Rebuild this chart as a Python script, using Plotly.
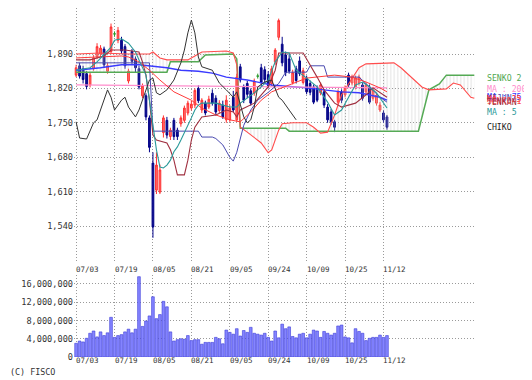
import plotly.graph_objects as go

# ---------------- data ----------------
tick_idx = [0, 11, 22, 33, 44, 55, 66, 77, 88]
tick_text = ["07/03", "07/19", "08/05", "08/21", "09/05", "09/24", "10/09", "10/25", "11/12"]

opens = [1847, 1866, 1860, 1850, 1827, 1860, 1884, 1890, 1900, 1855,
         1895, 1931, 1918, 1918, 1905, 1835, 1895, 1880, 1860, 1805,
         1805, 1760, 1668, 1613, 1609, 1730, 1755, 1722, 1755, 1735,
         1748, 1755, 1770, 1780, 1786, 1820, 1776, 1790, 1782, 1810,
         1800, 1775, 1786, 1756, 1756, 1802, 1756, 1864, 1823, 1830,
         1815, 1810, 1845, 1862, 1858, 1848, 1830, 1874, 1924, 1910,
         1888, 1880, 1832, 1860, 1876, 1832, 1841, 1830, 1823, 1821,
         1811, 1813, 1782, 1772, 1752, 1792, 1813, 1807, 1847, 1831,
         1823, 1831, 1827, 1813, 1823, 1800, 1790, 1776, 1770, 1762]
highs = [1868, 1872, 1866, 1855, 1852, 1888, 1912, 1908, 1905, 1872,
         1952, 1936, 1945, 1925, 1910, 1860, 1900, 1885, 1866, 1830,
         1810, 1765, 1690, 1690, 1665, 1765, 1762, 1740, 1760, 1740,
         1765, 1785, 1795, 1795, 1820, 1826, 1800, 1795, 1805, 1818,
         1806, 1796, 1795, 1806, 1786, 1815, 1850, 1870, 1828, 1835,
         1820, 1840, 1850, 1870, 1865, 1855, 1866, 1902, 1962, 1925,
         1895, 1890, 1858, 1866, 1885, 1862, 1846, 1836, 1828, 1826,
         1832, 1818, 1788, 1778, 1756, 1818, 1818, 1826, 1852, 1848,
         1846, 1848, 1832, 1832, 1828, 1822, 1810, 1792, 1775, 1766]
lows = [1843, 1840, 1830, 1818, 1822, 1856, 1880, 1884, 1862, 1850,
        1890, 1925, 1912, 1890, 1860, 1830, 1870, 1852, 1818, 1800,
        1755, 1690, 1516, 1605, 1605, 1720, 1718, 1715, 1715, 1715,
        1742, 1750, 1765, 1775, 1780, 1790, 1770, 1765, 1778, 1785,
        1765, 1770, 1758, 1750, 1752, 1772, 1752, 1832, 1790, 1800,
        1785, 1805, 1840, 1825, 1830, 1820, 1825, 1868, 1918, 1865,
        1845, 1850, 1828, 1830, 1845, 1828, 1808, 1806, 1788, 1792,
        1806, 1780, 1750, 1746, 1731, 1788, 1790, 1802, 1822, 1826,
        1818, 1826, 1795, 1808, 1788, 1795, 1785, 1772, 1750, 1736]
closes = [1862, 1845, 1838, 1824, 1847, 1882, 1905, 1902, 1868, 1866,
          1945, 1931, 1938, 1896, 1866, 1855, 1875, 1862, 1823, 1825,
          1762, 1700, 1538, 1664, 1654, 1760, 1725, 1735, 1722, 1722,
          1760, 1780, 1790, 1788, 1816, 1795, 1796, 1770, 1798, 1790,
          1772, 1790, 1762, 1796, 1780, 1776, 1843, 1837, 1796, 1808,
          1790, 1835, 1845, 1832, 1838, 1826, 1860, 1898, 1958, 1872,
          1852, 1855, 1852, 1836, 1850, 1856, 1813, 1812, 1792, 1796,
          1827, 1786, 1756, 1752, 1741, 1813, 1796, 1821, 1827, 1843,
          1841, 1843, 1800, 1827, 1792, 1817, 1806, 1786, 1756, 1741]

volume_m = [3.0, 3.5, 3.3, 4.1, 5.2, 5.7, 4.4, 5.5, 4.7, 5.3,
            8.7, 4.3, 4.7, 4.9, 5.5, 6.1, 5.3, 6.1, 17.6, 6.7,
            7.9, 9.0, 13.2, 8.4, 9.3, 12.2, 11.0, 5.5, 3.5, 3.8,
            4.0, 3.9, 4.7, 3.6, 3.8, 3.8, 2.8, 3.2, 3.2, 3.2,
            4.3, 4.0, 2.9, 5.9, 5.4, 5.0, 6.2, 4.6, 5.8, 5.4,
            6.5, 5.2, 5.0, 4.8, 5.2, 4.3, 3.5, 5.7, 4.2, 7.2,
            6.2, 6.6, 4.5, 4.2, 5.0, 5.2, 4.2, 5.0, 5.9, 5.7,
            4.3, 5.6, 5.2, 4.8, 5.2, 6.8, 7.0, 4.4, 4.2, 3.1,
            6.2, 5.6, 5.2, 3.6, 4.1, 4.3, 4.3, 4.8, 4.3, 4.7]

senko2_idx = [0, 26, 27, 35, 37, 45, 46, 47, 60, 61, 98, 99, 101, 104, 106, 114]
senko2_val = [1853, 1853, 1874, 1874, 1888, 1890, 1880, 1739, 1739, 1733, 1733, 1760, 1817, 1829, 1847, 1847]

senko1_idx = [0, 7, 15, 21, 22, 24, 26, 32, 34, 36, 43, 45, 46, 47, 49, 53, 55, 56, 58, 59,
              62, 66, 68, 70, 72, 74, 76, 79, 81, 83, 91, 93, 96, 99, 101, 106, 108, 110, 113, 114]
senko1_val = [1890, 1892, 1890, 1890, 1894, 1882, 1878, 1878, 1886, 1894, 1896, 1892, 1868, 1741, 1731,
              1709, 1689, 1695, 1735, 1748, 1750, 1750, 1741, 1729, 1731, 1766, 1807, 1841, 1862, 1870,
              1872, 1862, 1843, 1823, 1817, 1819, 1831, 1827, 1802, 1800]

ma25_idx = [0, 7, 13, 15, 18, 21, 24, 28, 33, 36, 40, 44, 47, 50, 53, 56, 61, 66, 74, 79, 83, 87, 89]
ma25_val = [1882, 1884, 1886, 1884, 1874, 1857, 1837, 1813, 1796, 1780, 1766, 1756, 1752, 1772,
            1796, 1813, 1827, 1841, 1847, 1843, 1833, 1821, 1813]

tenkan_idx = [0, 4, 6, 8, 10, 14, 18, 19, 20, 21, 22, 23, 26, 27, 28, 29, 31, 32, 33, 34, 36, 40,
              43, 45, 46, 47, 51, 53, 55, 57, 58, 65, 67, 69, 71, 74, 76, 80, 83, 85, 89]
tenkan_val = [1878, 1878, 1882, 1886, 1898, 1898, 1894, 1874, 1847, 1796, 1725, 1715, 1709, 1695,
              1674, 1644, 1644, 1674, 1715, 1741, 1762, 1766, 1776, 1772, 1762, 1776, 1790, 1807,
              1823, 1857, 1892, 1892, 1868, 1843, 1817, 1790, 1782, 1790, 1807, 1821, 1802]

kijun_idx = [0, 21, 22, 35, 36, 39, 40, 42, 44, 45, 46, 47, 48, 50, 52, 55, 58, 60, 66, 67, 71, 72, 81, 84, 87, 89]
kijun_val = [1872, 1872, 1733, 1733, 1721, 1721, 1718, 1705, 1680, 1672, 1690, 1718, 1745, 1776,
             1796, 1812, 1830, 1853, 1853, 1866, 1866, 1843, 1843, 1823, 1802, 1792]

ma75_idx = [0, 7, 13, 18, 26, 30, 35, 39, 43, 49, 56, 66, 76, 81, 87, 89]
ma75_val = [1857, 1862, 1868, 1868, 1862, 1857, 1855, 1851, 1843, 1837, 1827, 1821, 1813, 1811, 1802, 1796]

ma200_idx = [0, 30, 60, 89]
ma200_val = [1827, 1825, 1823, 1821]

ma5_idx = [0, 4, 6, 8, 10, 11, 13, 15, 17, 18, 20, 21, 22, 23, 24, 25, 26, 27, 28, 29, 30, 31, 32,
           33, 34, 35, 36, 38, 40, 42, 44, 46, 47, 51, 53, 55, 56, 57, 59, 61, 63, 66, 69, 72, 74,
           76, 78, 80, 82, 84, 86, 88, 89]
ma5_val = [1857, 1862, 1874, 1888, 1904, 1918, 1921, 1912, 1894, 1878, 1847, 1796, 1746, 1695,
           1660, 1658, 1664, 1674, 1691, 1701, 1715, 1729, 1745, 1760, 1776, 1786, 1790, 1790,
           1790, 1786, 1782, 1782, 1790, 1811, 1823, 1837, 1857, 1874, 1894, 1892, 1857, 1841,
           1823, 1792, 1766, 1776, 1802, 1827, 1833, 1823, 1811, 1790, 1780]

chiko_idx = [0, 1, 3, 5, 6, 7, 8, 9, 10, 11, 13, 14, 15, 17, 18, 19, 21, 22, 23, 24, 26, 28, 30,
             31, 32, 33, 34, 35, 36, 39, 41, 43, 45, 46, 47, 48, 49, 50, 51, 52, 54, 56, 58, 59, 61, 63]
chiko_val = [1752, 1719, 1717, 1750, 1756, 1776, 1796, 1817, 1802, 1776, 1796, 1802, 1782, 1762,
             1776, 1796, 1837, 1841, 1811, 1807, 1817, 1837, 1872, 1898, 1933, 1959, 1933, 1884,
             1864, 1857, 1831, 1817, 1802, 1813, 1790, 1762, 1750, 1756, 1782, 1823, 1833, 1837,
             1802, 1796, 1776, 1756]

price_ticks = [1540, 1610, 1680, 1750, 1820, 1890]
vol_ticks = [0, 4000000, 8000000, 12000000, 16000000]

legend_items = [("SENKO 2", "#4fa84f", 78),
                ("MA : 200", "#ff8ccc", 89),
                ("MA : 75", "#3a3aff", 97),
                ("KIJUN", "#4a4ab0", 98),
                ("MA : 25", "#ff3a3a", 99),
                ("SENKO 1", "#ff4a4a", 101),
                ("TENKAN", "#a03040", 102),
                ("MA : 5", "#2a9a9a", 112),
                ("CHIKO", "#222222", 127)]

# ---------------- figure ----------------
# page has an 8px body margin: the figure is sized and laid out in page pixels minus 8
OFF = 8
W, H = 532 - OFF, 380 - OFF
ML = 74 - OFF
MR = W - (475 - OFF)
MT = 0
MB = H - (357 - OFF)
PW, PH = W - ML - MR, H - MT - MB
MONO = "DejaVu Sans Mono"
GRID = "#9a9a9a"


def py(page_y):
    fy = page_y - OFF
    return (PH - (fy - MT)) / PH


def px(page_x):
    fx = page_x - OFF
    return (fx - ML) / PW


# price range: 1890 at page y 54, 70 per 34.4 px, plot top at page y 8, bottom at page y 262
PPP = 70 / 34.4
y_top = 1890 + (54 - OFF) * PPP
y_bot = 1890 - (262 - 54) * PPP

n = len(closes)
idx = list(range(n))
fig = go.Figure()

# cloud
fig.add_trace(go.Scatter(x=senko2_idx, y=senko2_val, mode="lines",
                         line=dict(color="#55aa55", width=1.5), hoverinfo="skip"))
fig.add_trace(go.Scatter(x=senko1_idx, y=senko1_val, mode="lines",
                         line=dict(color="#ff4c4c", width=1.1), fill="tonexty",
                         fillcolor="rgba(0,0,0,0)",
                         fillpattern=dict(shape="|", size=3.5, solidity=0.28,
                                          fgcolor="#c4c4c4", bgcolor="rgba(0,0,0,0)"),
                         hoverinfo="skip"))

# candles
nd = [i for i in idx if opens[i] != closes[i]]
fig.add_trace(go.Candlestick(
    x=nd, open=[opens[i] for i in nd], high=[highs[i] for i in nd],
    low=[lows[i] for i in nd], close=[closes[i] for i in nd],
    increasing=dict(line=dict(color="#ff3030", width=1), fillcolor="#ff7272"),
    decreasing=dict(line=dict(color="#000088", width=1), fillcolor="#10108c"),
    whiskerwidth=0, xaxis="x", yaxis="y"))
dj = [i for i in idx if opens[i] == closes[i]]
for i in dj:
    fig.add_trace(go.Scatter(x=[i, i], y=[lows[i], highs[i]], mode="lines",
                             line=dict(color="#2a9a2a", width=1), hoverinfo="skip"))
    fig.add_trace(go.Scatter(x=[i - 0.35, i + 0.35], y=[opens[i], closes[i]], mode="lines",
                             line=dict(color="#2a9a2a", width=1.5), hoverinfo="skip"))

# indicator lines
lines = [
    (ma75_idx, ma75_val, "#3a3aff", 1.4),
    (ma200_idx, ma200_val, "#ff8ccc", 1.2),
    (kijun_idx, kijun_val, "#4a4ab0", 1.0),
    (ma25_idx, ma25_val, "#ff3a3a", 1.0),
    (tenkan_idx, tenkan_val, "#a03040", 1.1),
    (ma5_idx, ma5_val, "#2a9a9a", 1.1),
    (chiko_idx, chiko_val, "#333333", 1.0),
]
for xs, ys, c, w in lines:
    fig.add_trace(go.Scatter(x=xs, y=ys, mode="lines", line=dict(color=c, width=w),
                             hoverinfo="skip"))

# volume
fig.add_trace(go.Bar(x=idx, y=[v * 1e6 for v in volume_m], xaxis="x2", yaxis="y2",
                     marker=dict(color="#8484ff", line=dict(color="#3c3cd8", width=0.6))))

xr = [-0.6, 114.2]
common_x = dict(range=xr, tickvals=tick_idx, showticklabels=False, showgrid=True,
                gridcolor=GRID, griddash="1px,2px", gridwidth=1, zeroline=False,
                showline=False, ticks="")
fig.update_layout(
    width=W, height=H, margin=dict(l=ML, r=MR, t=MT, b=MB, autoexpand=False),
    paper_bgcolor="white", plot_bgcolor="white", showlegend=False, bargap=0.22,
    font=dict(family=MONO, size=9, color="#333"),
    xaxis=dict(domain=[0, 1], anchor="y", rangeslider=dict(visible=False), **common_x),
    yaxis=dict(domain=[py(262), 1], range=[y_bot, y_top], tickvals=price_ticks,
               tickformat=",d", showgrid=True, gridcolor=GRID, griddash="1px,2px",
               zeroline=False, showline=False, ticks="",
               tickfont=dict(family=MONO, size=8.6, color="#333")),
    xaxis2=dict(domain=[0, 1], anchor="y2", **common_x),
    yaxis2=dict(domain=[0, py(275)], range=[0, 17.97e6], tickvals=vol_ticks,
                tickformat=",d", showgrid=True, gridcolor=GRID, griddash="1px,2px",
                zeroline=False, showline=False, ticks="",
                tickfont=dict(family=MONO, size=8.6, color="#333")),
)

ann = []
for t, lab in zip(tick_idx, tick_text):
    for ypx in (269.5, 360):
        ann.append(dict(x=t, xref="x", y=py(ypx), yref="paper", text=lab, showarrow=False,
                        xanchor="left", yanchor="middle", xshift=-2,
                        font=dict(family=MONO, size=7.5, color="#333")))
for lab, col, ypx in legend_items:
    ann.append(dict(x=px(485), xref="paper", y=py(ypx), yref="paper", text=lab,
                    showarrow=False, xanchor="left", yanchor="middle",
                    font=dict(family=MONO, size=8.2, color=col)))
ann.append(dict(x=px(OFF), xref="paper", y=py(372), yref="paper", text="(C) FISCO",
                showarrow=False, xanchor="left", yanchor="middle",
                font=dict(family=MONO, size=8.4, color="#333")))
fig.update_layout(annotations=ann)

fig.write_html("out.html")
